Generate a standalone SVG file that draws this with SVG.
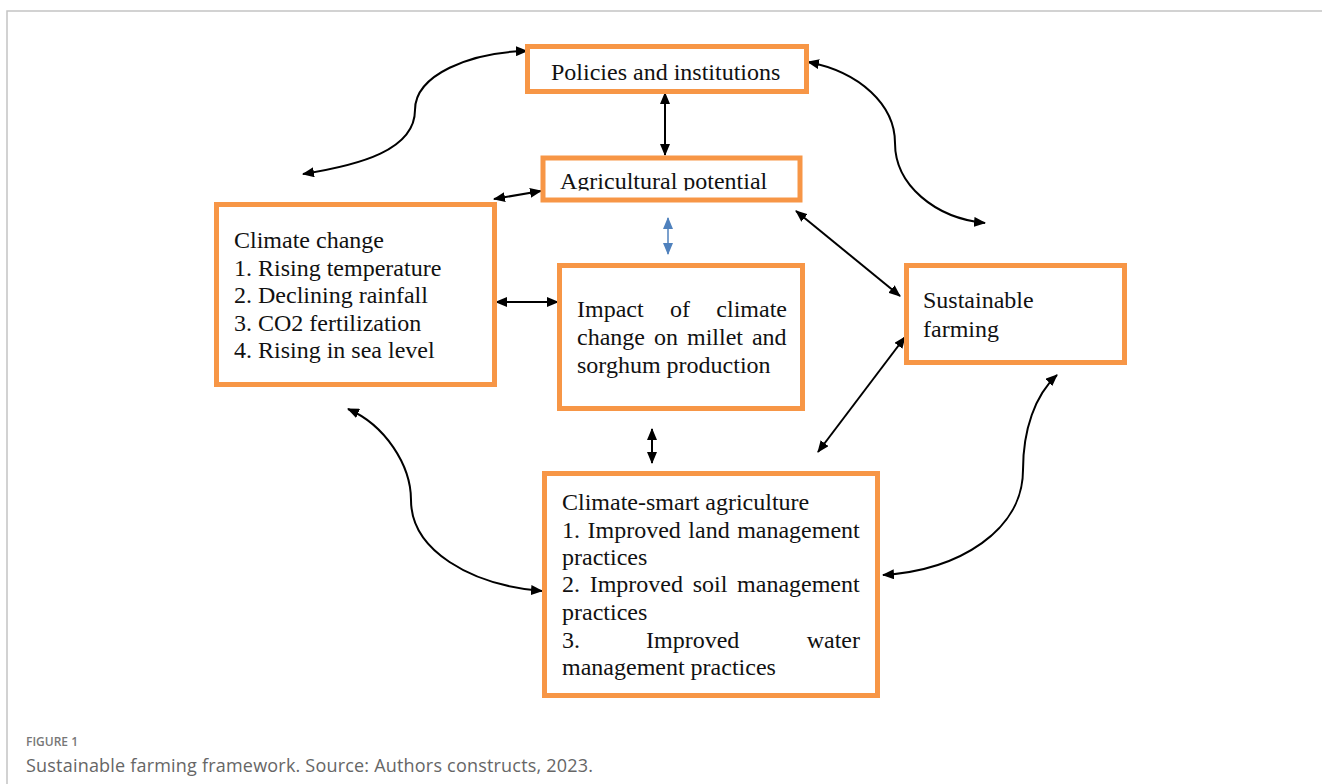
<svg xmlns="http://www.w3.org/2000/svg" width="1322" height="784" viewBox="0 0 1322 784">
<style>
.box{fill:#fff;stroke:#F79646;stroke-width:5}
.t{font-family:"Liberation Serif","Times New Roman",serif;font-size:24px;fill:#111}
.c{fill:none;stroke:#000;stroke-width:2;marker-start:url(#ah);marker-end:url(#ah)}
.b{fill:none;stroke:#4F81BD;stroke-width:1.5;marker-start:url(#bh);marker-end:url(#bh)}
.cap{font-family:"Open Sans","Liberation Sans",sans-serif}
</style>
<defs>
<marker id="ah" viewBox="0 0 12 10" refX="11" refY="5" markerWidth="12" markerHeight="10" markerUnits="userSpaceOnUse" orient="auto-start-reverse"><path d="M0,0 L12,5 L0,10 Z" fill="#000"/></marker>
<marker id="bh" viewBox="0 0 12 10" refX="11" refY="5" markerWidth="12" markerHeight="10" markerUnits="userSpaceOnUse" orient="auto-start-reverse"><path d="M0,0 L12,5 L0,10 Z" fill="#4F81BD"/></marker>
<clipPath id="agclip"><rect x="545" y="160" width="252" height="30.5"/></clipPath>
</defs>
<rect width="1322" height="784" fill="#fff"/>
<path d="M7,784 V11 H1322" fill="none" stroke="#c4c4c4" stroke-width="1.5"/>

<g id="connectors">
<path class="c" d="M303,174 C360,165 415,150 415,110 C415,75 470,52 527,51"/>
<path class="c" d="M808,62 C860,72 895,105 895,143 C895,185 935,218 985,223"/>
<path class="c" d="M348,409 C385,425 411,465 411,500 C411,550 470,585 542,591"/>
<path class="c" d="M1057,375 C1035,395 1023,430 1023,470 C1023,530 960,570 883,575"/>
<path class="c" d="M665,93 L665,155"/>
<path class="c" d="M494,199 L541,191"/>
<path class="c" d="M496,302 L558,302"/>
<path class="c" d="M796,211 L900,296"/>
<path class="c" d="M905,337 L818,452"/>
<path class="c" d="M652,429 L652,463"/>
<path class="b" d="M668,218 L668,254"/>
</g>

<g id="policies">
<rect class="box" x="527.5" y="46.5" width="279" height="45"/>
<text class="t" x="551" y="80">Policies and institutions</text>
</g>

<g id="agri-potential">
<rect class="box" x="543" y="158" width="257" height="42"/>
<text class="t" x="560" y="189" clip-path="url(#agclip)">Agricultural potential</text>
</g>

<g id="climate-change">
<rect class="box" x="216.5" y="204.5" width="278" height="180"/>
<text class="t" x="234" y="248">Climate change</text>
<text class="t" x="234" y="276">1. Rising temperature</text>
<text class="t" x="234" y="303">2. Declining rainfall</text>
<text class="t" x="234" y="331">3. CO2 fertilization</text>
<text class="t" x="234" y="358">4. Rising in sea level</text>
</g>

<g id="impact">
<rect class="box" x="559.5" y="265.5" width="243" height="143"/>
<text class="t" x="577" y="317">Impact</text>
<text class="t" x="670" y="317">of</text>
<text class="t" x="787" y="317" text-anchor="end">climate</text>
<text class="t" x="577" y="345" word-spacing="3">change on millet and</text>
<text class="t" x="577" y="373">sorghum production</text>
</g>

<g id="sustainable">
<rect class="box" x="906.5" y="265.5" width="218" height="97"/>
<text class="t" x="923" y="308">Sustainable</text>
<text class="t" x="923" y="337">farming</text>
</g>

<g id="csa">
<rect class="box" x="544.5" y="473.5" width="333" height="222"/>
<text class="t" x="562" y="510">Climate-smart agriculture</text>
<text class="t" x="562" y="538" word-spacing="1.5">1. Improved land management</text>
<text class="t" x="562" y="565">practices</text>
<text class="t" x="562" y="592" word-spacing="3.7">2. Improved soil management</text>
<text class="t" x="562" y="620">practices</text>
<text class="t" x="562" y="648">3.</text>
<text class="t" x="646" y="648">Improved</text>
<text class="t" x="860" y="648" text-anchor="end">water</text>
<text class="t" x="562" y="675">management practices</text>
</g>

<g id="caption">
<text class="cap" x="26" y="746" font-size="12" font-weight="600" fill="#777">FIGURE 1</text>
<text class="cap" x="26" y="772" font-size="18" fill="#666" textLength="567" lengthAdjust="spacing">Sustainable farming framework. Source: Authors constructs, 2023.</text>
</g>
</svg>
